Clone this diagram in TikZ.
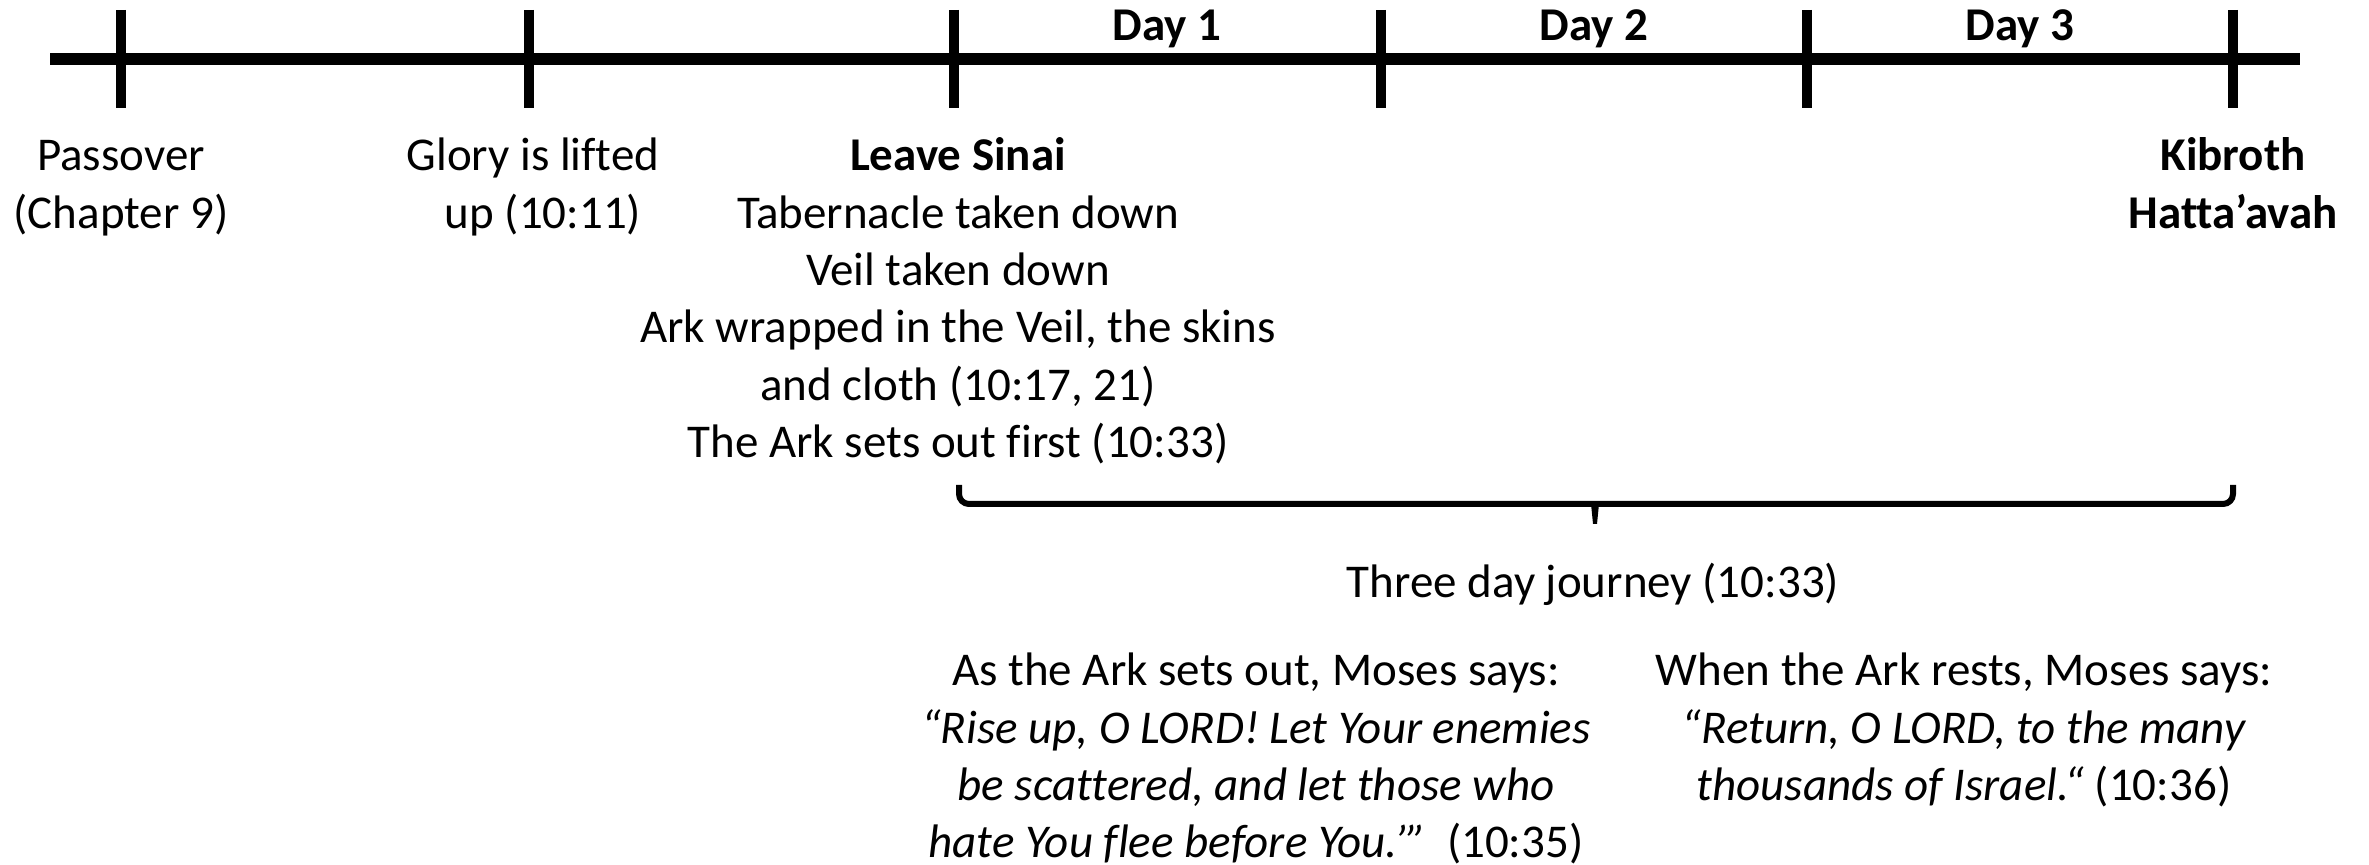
\documentclass[tikz,border=0pt]{standalone}
\usepackage{fontspec}
\setmainfont{Carlito}[Ligatures=NoCommon]
\begin{document}
\begin{tikzpicture}[x=0.3pt,y=-0.3pt,
  txt/.style={inner sep=0pt,align=center,font=\fontsize{14.1}{17.2}\selectfont},
  daylbl/.style={inner sep=0pt,anchor=base,font=\fontsize{14.1}{17.2}\selectfont\bfseries},
  tickline/.style={line width=3pt},
  mainline/.style={line width=3.6pt},
  bracketline/.style={line width=1.8pt,rounded corners=3pt}]
\useasboundingbox (0,0) rectangle (2369,865);
% main line
\coordinate (L) at (50,59);
\coordinate (R) at (2300,59);
\draw[mainline] (L) -- (R);
% ticks
\foreach \n/\x in {t1/121,t2/529,t3/954,t4/1381,t5/1807,t6/2233}{
  \coordinate (\n top) at (\x,10);
  \coordinate (\n bot) at (\x,108);
  \draw[tickline] (\n top) -- (\n bot);
}
% day labels
\node[daylbl] (d1) at (1167,41) {Day 1};
\node[daylbl] (d2) at (1594,41) {Day 2};
\node[daylbl] (d3) at (2020,41) {Day 3};
% event labels
\node[txt,anchor=north] (pass) at (121,130) {\strut Passover\\(Chapter 9)};
\node[txt,anchor=north] (glory) at (538,130) {\strut Glory is lifted\hspace*{3pt}\\\hspace*{3pt}up (10:11)};
\node[txt,anchor=north] (sinai) at (958,130) {\strut\textbf{Leave Sinai}\\Tabernacle taken down\\Veil taken down\\Ark wrapped in the Veil, the skins\\and cloth (10:17, 21)\\The Ark sets out first (10:33)};
\node[txt,anchor=north] (kib) at (2233,130) {\strut\textbf{Kibroth}\\\textbf{Hatta’avah}};
% bracket
\coordinate (bl) at (959,485);
\coordinate (br) at (2233,485);
\coordinate (bm) at (1595,504);
\coordinate (bt) at (1595,524);
\draw[bracketline] (bl) -- (959,504) -- (2233,504) -- (br);
\fill (1591,504) -- (1599,504) -- (1597,524) -- (1593,524) -- cycle;
\node[txt,anchor=base] (three) at (1593,598) {Three day journey (10:33)};
% quotes
\node[txt,anchor=north] (q1) at (1256,645) {\strut As the Ark sets out, Moses says:\\\textit{“Rise up, O LORD! Let Your enemies}\\\textit{be scattered, and let those who}\\\textit{hate You flee before You.’”}\ \ (10:35)};
\node[txt,anchor=north] (q2) at (1964,645) {\strut When the Ark rests, Moses says:\\\textit{“Return, O LORD, to the many}\\\textit{thousands of Israel.“} (10:36)};
\end{tikzpicture}
\end{document}
